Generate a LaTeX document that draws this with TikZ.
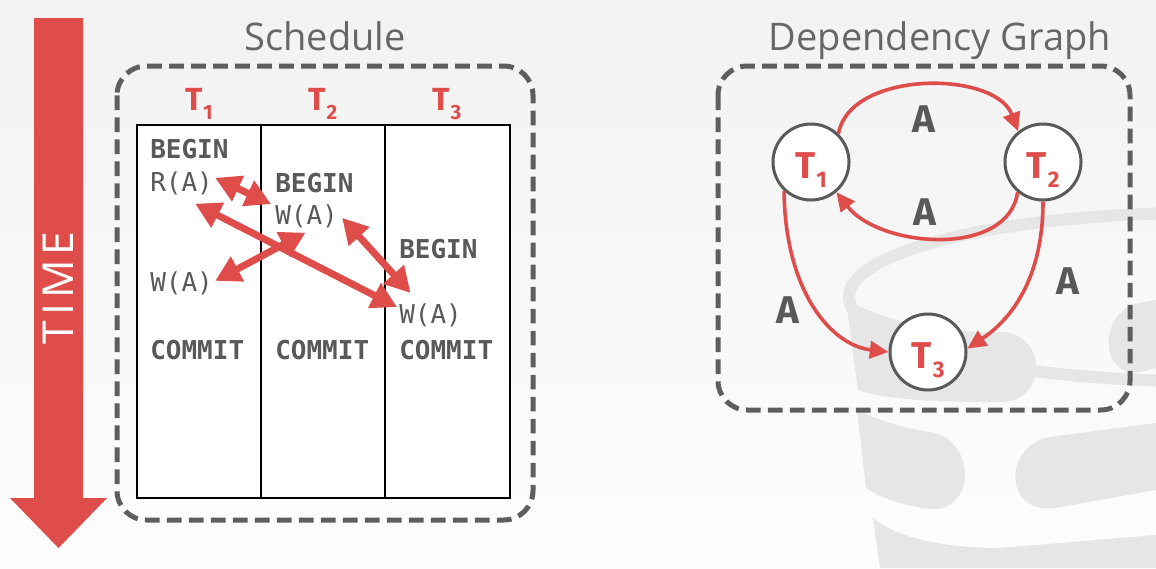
\documentclass[tikz,border=0pt]{standalone}
\usepackage{fontspec}
\setmainfont{Open Sans}
\newfontfamily\monofont{DejaVu Sans Mono}
\newfontfamily\labelfont{Fira Sans}
\newfontfamily\timefont[LetterSpace=12]{Open Sans}
\usetikzlibrary{arrows.meta}

\definecolor{accent}{HTML}{DF4D4B}
\definecolor{ink}{HTML}{595959}
\definecolor{frame}{HTML}{5E5E5E}
\definecolor{titlegray}{HTML}{666666}
\definecolor{wmgray}{HTML}{E6E6E6}
\definecolor{bgtop}{HTML}{F2F2F2}
\definecolor{bgbottom}{HTML}{FDFDFD}

% transaction labels with subscripts
\newcommand\colhead[1]{{\labelfont\bfseries\fontsize{24}{24}\selectfont T\kern0.5pt\raisebox{-6.75pt}{\fontsize{15.5}{15.5}\selectfont #1}}}
\newcommand\txlabel[1]{{\labelfont\bfseries\fontsize{28}{28}\selectfont T\kern1pt\smash{\raisebox{-7pt}{\fontsize{17}{17}\selectfont #1}}}}

\tikzset{
  dashbox/.style={draw=frame, line width=3.75pt, dash pattern=on 11pt off 5.5pt, rounded corners=22pt},
  grid/.style={draw=black, line width=1.1pt},
  op/.style={font=\monofont\fontsize{19.5}{20}\selectfont, text=ink, inner sep=0pt, anchor=base west},
  opkey/.style={op, font=\monofont\bfseries\fontsize{19.5}{20}\selectfont},
  conflict/.style={draw=accent, line width=5.25pt,
    {Triangle[length=19pt,width=20pt]}-{Triangle[length=19pt,width=20pt]}},
  txnode/.style={circle, draw=ink, line width=2.25pt, fill=white, minimum size=57pt,
    inner sep=0pt, text=accent, text height=24pt, text depth=0pt},
  gedge/.style={draw=accent, line width=2.7pt, -{Triangle[length=14pt,width=13pt]}},
  objlabel/.style={anchor=base, text=ink, font=\labelfont\bfseries\fontsize{29}{29}\selectfont, inner sep=0pt},
  title/.style={anchor=base, text=titlegray, font=\fontsize{28.5}{28.5}\selectfont, inner sep=0pt}
}

\begin{document}
\begin{tikzpicture}[x=0.75pt, y=-0.75pt]
\useasboundingbox (0,0) rectangle (1156,568);
\fill[top color=bgtop, bottom color=bgbottom] (0,0) rectangle (1156,568);

% faint database emblem in the background
\draw[wmgray, line width=9pt] (1200,297) ellipse [x radius=351, y radius=84];
\fill[wmgray] (846,300) .. controls (900,328) and (960,333) .. (1000,332)
  .. controls (1048,332) and (1048,403) .. (1000,402)
  .. controls (940,402) and (885,400) .. (858,390) -- cycle;
\fill[wmgray] (1156,300) -- (1140,303) .. controls (1098,310) and (1098,378) .. (1140,372) -- (1156,368) -- cycle;
\fill[wmgray] (857,410) .. controls (890,425) and (915,430) .. (930,432)
  .. controls (975,438) and (978,512) .. (930,509)
  .. controls (905,506) and (880,498) .. (866,488) -- cycle;
\fill[wmgray] (1156,423) -- (1050,437) .. controls (1003,445) and (1003,515) .. (1055,508) -- (1156,490) -- cycle;
\fill[wmgray] (873,518) .. controls (900,540) and (950,548) .. (1000,548)
  -- (1156,535) -- (1156,568) -- (880,568) -- cycle;

% time axis
\fill[accent] (34,18) -- (83,18) -- (83,498) -- (107,498) -- (58.5,548) -- (10,498) -- (34,498) -- cycle;
\node[rotate=90, text=white, font=\timefont\fontsize{32}{32}\selectfont, inner sep=0pt] (time) at (58,288) {TIME};

% schedule
\node[title] (schedtitle) at (325,50) {Schedule};
\draw[dashbox] (117,66) rectangle (533,520);
\fill[white] (137,125) rectangle (510,498);
\draw[grid] (137,125) rectangle (510,498);
\draw[grid] (261,125) -- (261,498);
\draw[grid] (385,125) -- (385,498);

\node[anchor=base, text=accent, inner sep=0pt] (h1) at (199,110) {\colhead{1}};
\node[anchor=base, text=accent, inner sep=0pt] (h2) at (323,110) {\colhead{2}};
\node[anchor=base, text=accent, inner sep=0pt] (h3) at (447,110) {\colhead{3}};

\node[opkey] (b1) at (150,158) {BEGIN};
\node[op]    (r1) at (150,191) {R(A)};
\node[op]    (w1) at (150,291) {W(A)};
\node[opkey] (c1) at (150,359) {COMMIT};

\node[opkey] (b2) at (275,192) {BEGIN};
\node[op]    (w2) at (275,224) {W(A)};
\node[opkey] (c2) at (275,359) {COMMIT};

\node[opkey] (b3) at (399,258) {BEGIN};
\node[op]    (w3) at (399,323) {W(A)};
\node[opkey] (c3) at (399,359) {COMMIT};

\draw[conflict] ([shift={(2,-5)}]r1.east) -- ([shift={(-4,0)}]w2.north west);
\draw[conflict] ([shift={(-18,9)}]r1.south east) -- ([shift={(-2,4)}]w3.north west);
\draw[conflict] ([shift={(-1,5)}]w2.south) -- ([shift={(2,-2)}]w1.east);
\draw[conflict] ([shift={(4,2)}]w2.east) -- ([shift={(-20,-10)}]w3.north);

% dependency graph
\node[title] (graphtitle) at (940,50) {Dependency Graph};
\draw[dashbox] (718,66) rectangle (1130,410);

\node[txnode] (g1) at (811,162) {\txlabel{1}};
\node[txnode] (g2) at (1043,162) {\txlabel{2}};
\node[txnode] (g3) at (928,352) {\txlabel{3}};

\draw[gedge] (g1.46) .. controls (850,70) and (995,70) .. (g2.129);
\draw[gedge] (g2.230) .. controls (1008,258) and (880,248) .. (g1.310);
\draw[gedge] (g1.227) .. controls (785,290) and (830,345) .. (g3.180);
\draw[gedge] (g2.270) .. controls (1043,280) and (1010,320) .. (g3.5);

\node[objlabel] (a12) at (924,132) {A};
\node[objlabel] (a21) at (925,225) {A};
\node[objlabel] (a13) at (788,323) {A};
\node[objlabel] (a23) at (1068,294) {A};
\end{tikzpicture}
\end{document}
